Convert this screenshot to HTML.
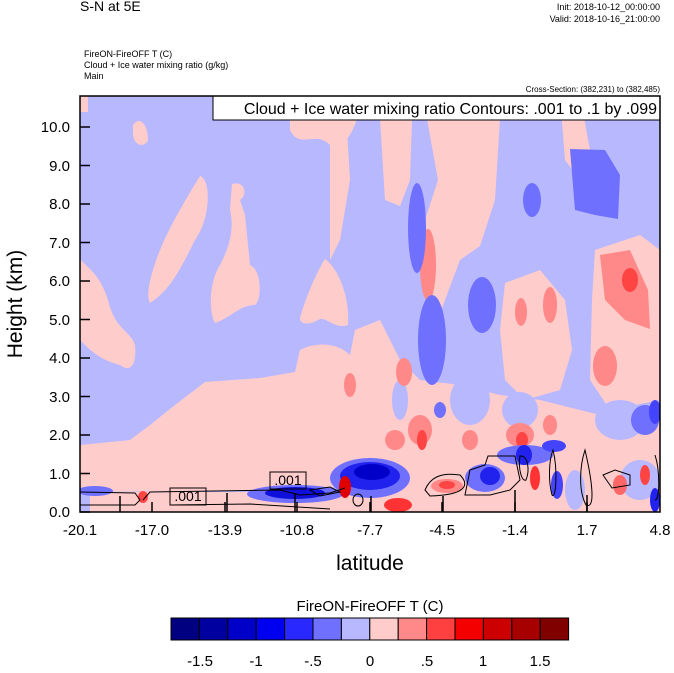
<!DOCTYPE html>
<html><head><meta charset="utf-8"><style>
body{margin:0;background:#fff;width:674px;height:668px;overflow:hidden;font-family:"Liberation Sans",sans-serif}
</style></head><body>
<svg width="674" height="668" xmlns="http://www.w3.org/2000/svg" font-family="Liberation Sans, sans-serif">
<defs><clipPath id="c"><rect x="80" y="96" width="580" height="416"/></clipPath></defs>
<text x="80" y="11" font-size="14">S-N at 5E</text>
<text x="660" y="10" font-size="9" text-anchor="end">Init: 2018-10-12_00:00:00</text>
<text x="660" y="22" font-size="9" text-anchor="end">Valid: 2018-10-16_21:00:00</text>
<text x="84" y="57" font-size="9">FireON-FireOFF T   (C)</text>
<text x="84" y="68" font-size="9">Cloud + Ice water mixing ratio   (g/kg)</text>
<text x="84" y="79" font-size="9">Main</text>
<text x="660" y="92" font-size="8" text-anchor="end">Cross-Section: (382,231) to (382,485)</text>
<g clip-path="url(#c)">
<rect x="80" y="96" width="580" height="416" fill="#b8b8ff"/>
<g fill="#ffcccc">
<path d="M133 125 C140 115 148 125 148 140 C145 148 134 146 133 135Z"/>
<path d="M200 176 C212 180 210 220 195 240 C180 270 170 290 150 303 C145 295 152 270 160 250 C168 230 185 200 200 176Z"/>
<path d="M232 184 C245 180 248 195 240 200 L245 215 L250 265 C262 270 262 300 255 305 C240 305 230 318 215 323 C208 310 210 280 220 265 C228 250 235 230 230 210Z"/>
<path d="M325 259 C340 270 350 300 348 325 C335 330 325 315 318 320 C310 325 300 325 300 318 C305 300 315 275 325 259Z"/>
<path d="M80 259 C90 270 100 275 108 300 C115 330 130 330 135 345 C137 365 130 373 120 365 C100 360 90 350 80 340Z"/>
<path d="M290 119 L357 119 C350 140 340 150 330 145 C315 130 300 150 290 130Z"/>
<path d="M80 96 L88 96 L88 112 L80 112Z"/>
<path d="M80 445 L130 440 L150 425 L175 405 L205 382 L260 378 L295 372 L300 350 C320 340 340 345 350 355 L355 380 L345 440 L340 480 L330 490 L80 492Z"/>
<path d="M90 492 L340 492 L340 512 L90 512Z"/>
<path d="M330 96 L345 96 L350 180 L340 240 L330 260Z"/>
<path d="M380 119 L412 119 L410 180 L400 206 L385 200Z"/>
<path d="M427 119 L500 119 L495 200 L480 246 L460 260 L445 300 L438 320 L430 290 L425 220 L438 180Z"/>
<path d="M560 96 L580 96 L590 150 L580 180 L565 160Z"/>
<path d="M595 250 L640 235 L660 250 L660 400 L610 410 L590 380 L592 300Z"/>
<path d="M505 283 L540 270 L565 300 L572 350 L560 390 L525 400 L505 380 L500 330Z"/>
<path d="M355 330 L380 320 L400 360 L420 380 L460 385 L500 395 L540 400 L580 410 L620 420 L660 410 L660 512 L340 512 L335 480 L340 440 L345 380Z"/>
<path d="M330 400 L360 380 L370 420 L360 460 L340 470Z"/>
</g>
<g fill="#b8b8ff">
<ellipse cx="470" cy="400" rx="20" ry="25"/>
<ellipse cx="520" cy="410" rx="18" ry="18"/>
<ellipse cx="620" cy="420" rx="25" ry="20"/>
<ellipse cx="400" cy="400" rx="8" ry="20"/>
<ellipse cx="575" cy="490" rx="10" ry="20"/>
<ellipse cx="640" cy="480" rx="20" ry="20"/>
</g>
<g fill="#ff8888">
<ellipse cx="428" cy="265" rx="8" ry="36"/>
<path d="M600 255 L630 250 L648 290 L650 329 L625 320 L605 300Z"/>
<ellipse cx="550" cy="305" rx="7" ry="18"/>
<ellipse cx="521" cy="312" rx="6" ry="14"/>
<ellipse cx="605" cy="366" rx="12" ry="20"/>
<ellipse cx="404" cy="372" rx="8" ry="14"/>
<ellipse cx="350" cy="385" rx="6" ry="12"/>
<ellipse cx="420" cy="430" rx="12" ry="15"/>
<ellipse cx="520" cy="435" rx="14" ry="12"/>
<ellipse cx="395" cy="440" rx="10" ry="10"/>
<ellipse cx="470" cy="440" rx="8" ry="10"/>
<ellipse cx="550" cy="425" rx="7" ry="10"/>
</g>
<g fill="#ff4444">
<ellipse cx="630" cy="280" rx="8" ry="12"/>
<ellipse cx="422" cy="440" rx="5" ry="10"/>
<ellipse cx="522" cy="440" rx="6" ry="8"/>
</g>
<g fill="#7070ff">
<path d="M570 149 L605 150 L620 175 L618 219 L595 215 L575 210Z"/>
<ellipse cx="417" cy="228" rx="9" ry="45"/>
<ellipse cx="432" cy="340" rx="14" ry="45"/>
<ellipse cx="482" cy="305" rx="14" ry="28"/>
<ellipse cx="532" cy="200" rx="9" ry="17"/>
<ellipse cx="645" cy="420" rx="14" ry="15"/>
<ellipse cx="440" cy="410" rx="6" ry="8"/>
</g>
<g>
<ellipse cx="370" cy="478" rx="40" ry="20" fill="#7070ff"/>
<ellipse cx="370" cy="476" rx="30" ry="14" fill="#2222ee"/>
<ellipse cx="372" cy="472" rx="18" ry="8" fill="#0000c8"/>
<ellipse cx="295" cy="494" rx="48" ry="9" fill="#7070ff"/>
<ellipse cx="295" cy="493" rx="30" ry="6" fill="#1010dd"/>
<ellipse cx="95" cy="491" rx="18" ry="5" fill="#7070ff"/>
<ellipse cx="485" cy="478" rx="20" ry="14" fill="#7070ff"/>
<ellipse cx="490" cy="476" rx="10" ry="9" fill="#2222ee"/>
<ellipse cx="525" cy="455" rx="28" ry="10" fill="#7070ff"/>
<ellipse cx="524" cy="455" rx="8" ry="10" fill="#2222ee"/>
<ellipse cx="554" cy="446" rx="12" ry="6" fill="#4444ff"/>
<ellipse cx="345" cy="487" rx="6" ry="11" fill="#e00000"/>
<ellipse cx="398" cy="505" rx="14" ry="7" fill="#ff3333"/>
<ellipse cx="447" cy="486" rx="16" ry="7" fill="#ff8888"/>
<ellipse cx="447" cy="485" rx="8" ry="4" fill="#ff4444"/>
<ellipse cx="143" cy="497" rx="5" ry="6" fill="#ff4444"/>
<ellipse cx="535" cy="478" rx="5" ry="12" fill="#ff3333"/>
<ellipse cx="557" cy="485" rx="6" ry="14" fill="#4444ff"/>
<ellipse cx="620" cy="485" rx="7" ry="10" fill="#ff6666"/>
<ellipse cx="645" cy="475" rx="5" ry="10" fill="#ff4444"/>
<ellipse cx="655" cy="500" rx="5" ry="12" fill="#2222ee"/>
<ellipse cx="655" cy="412" rx="6" ry="12" fill="#4444ff"/>
</g>
<g fill="none" stroke="#000" stroke-width="1">
<path d="M80 492 L135 493 L140 500 L135 505 L80 505"/>
<path d="M143 500 L150 492 L280 490 L300 495 L330 493 L345 488 M170 505 L250 504 L330 509"/>
<path d="M310 490 L330 487 L340 492 L320 496Z"/>
<ellipse cx="358" cy="500" rx="5" ry="6"/>
<path d="M425 490 C430 478 440 472 460 475 C470 485 466 495 430 496Z"/>
<path d="M465 495 L470 470 L485 465 L488 456 L515 456 L520 480 L510 490 L490 495Z"/>
<path d="M520 456 C528 455 530 470 526 480 C522 482 518 470 520 456Z"/>
<path d="M553 450 C558 470 556 500 552 495 C548 480 549 460 553 450Z"/>
<path d="M585 450 C592 480 596 510 586 505 C578 490 580 465 585 450Z"/>
<path d="M603 475 L615 470 L630 475 L630 485 L612 488Z"/>
<path d="M655 455 C660 470 660 500 655 500"/>
</g>
<g stroke="#000" stroke-width="1.5">
<line x1="120" y1="496" x2="120" y2="512"/><line x1="227" y1="493" x2="227" y2="512"/><line x1="295" y1="493" x2="295" y2="512"/><line x1="371" y1="496" x2="371" y2="512"/><line x1="443" y1="496" x2="443" y2="512"/><line x1="515" y1="490" x2="515" y2="512"/><line x1="587" y1="495" x2="587" y2="512"/>
</g>
<rect x="170" y="488" width="36" height="17" fill="none" stroke="#000"/>
<text x="188" y="501" font-size="14" text-anchor="middle">.001</text>
<rect x="270" y="472" width="36" height="17" fill="none" stroke="#000"/>
<text x="288" y="485" font-size="14" text-anchor="middle">.001</text>
</g>
<rect x="213" y="96" width="447" height="24" fill="#fff" stroke="#000"/>
<text x="657" y="114" font-size="16" text-anchor="end">Cloud + Ice water mixing ratio Contours: .001 to .1 by .099</text>
<rect x="80" y="96" width="580" height="416" fill="none" stroke="#000" stroke-width="1.5"/>
<g stroke="#000" stroke-width="1.5">
<line x1="80" y1="512" x2="90" y2="512"/><line x1="80" y1="473.5" x2="90" y2="473.5"/><line x1="80" y1="435" x2="90" y2="435"/><line x1="80" y1="396.5" x2="90" y2="396.5"/><line x1="80" y1="358" x2="90" y2="358"/><line x1="80" y1="319.5" x2="90" y2="319.5"/><line x1="80" y1="281" x2="90" y2="281"/><line x1="80" y1="242.5" x2="90" y2="242.5"/><line x1="80" y1="204" x2="90" y2="204"/><line x1="80" y1="165.5" x2="90" y2="165.5"/><line x1="80" y1="127" x2="90" y2="127"/>
<line x1="152" y1="512" x2="152" y2="502"/><line x1="225" y1="512" x2="225" y2="502"/><line x1="297" y1="512" x2="297" y2="502"/><line x1="370" y1="512" x2="370" y2="502"/><line x1="442" y1="512" x2="442" y2="502"/><line x1="515" y1="512" x2="515" y2="502"/><line x1="587" y1="512" x2="587" y2="502"/>
</g>
<g font-size="15" text-anchor="end">
<text x="70" y="517">0.0</text><text x="70" y="479">1.0</text><text x="70" y="440">2.0</text><text x="70" y="402">3.0</text><text x="70" y="363">4.0</text><text x="70" y="325">5.0</text><text x="70" y="286">6.0</text><text x="70" y="248">7.0</text><text x="70" y="209">8.0</text><text x="70" y="171">9.0</text><text x="70" y="132">10.0</text>
</g>
<g font-size="15" text-anchor="middle">
<text x="80" y="535">-20.1</text><text x="152" y="535">-17.0</text><text x="225" y="535">-13.9</text><text x="297" y="535">-10.8</text><text x="370" y="535">-7.7</text><text x="442" y="535">-4.5</text><text x="515" y="535">-1.4</text><text x="587" y="535">1.7</text><text x="660" y="535">4.8</text>
</g>
<text x="370" y="570" font-size="21" text-anchor="middle">latitude</text>
<text transform="translate(22,304) rotate(-90)" font-size="21" text-anchor="middle">Height (km)</text>
<text x="370" y="611" font-size="15" text-anchor="middle">FireON-FireOFF T  (C)</text>
<g stroke="#000" stroke-width="1">
<rect x="171" y="618" width="28.4" height="22" fill="#000080"/>
<rect x="199.4" y="618" width="28.4" height="22" fill="#0000a0"/>
<rect x="227.8" y="618" width="28.4" height="22" fill="#0000c8"/>
<rect x="256.2" y="618" width="28.4" height="22" fill="#0000f0"/>
<rect x="284.6" y="618" width="28.4" height="22" fill="#2828ff"/>
<rect x="313" y="618" width="28.4" height="22" fill="#7070ff"/>
<rect x="341.4" y="618" width="28.4" height="22" fill="#b8b8ff"/>
<rect x="369.8" y="618" width="28.4" height="22" fill="#ffcccc"/>
<rect x="398.2" y="618" width="28.4" height="22" fill="#ff8888"/>
<rect x="426.6" y="618" width="28.4" height="22" fill="#ff4040"/>
<rect x="455" y="618" width="28.4" height="22" fill="#f50000"/>
<rect x="483.4" y="618" width="28.4" height="22" fill="#cc0000"/>
<rect x="511.8" y="618" width="28.4" height="22" fill="#a60000"/>
<rect x="540.2" y="618" width="28.4" height="22" fill="#800000"/>
</g>
<g font-size="15" text-anchor="middle">
<text x="200" y="666">-1.5</text><text x="256" y="666">-1</text><text x="313" y="666">-.5</text><text x="370" y="666">0</text><text x="427" y="666">.5</text><text x="483" y="666">1</text><text x="540" y="666">1.5</text>
</g>
</svg>
</body></html>
